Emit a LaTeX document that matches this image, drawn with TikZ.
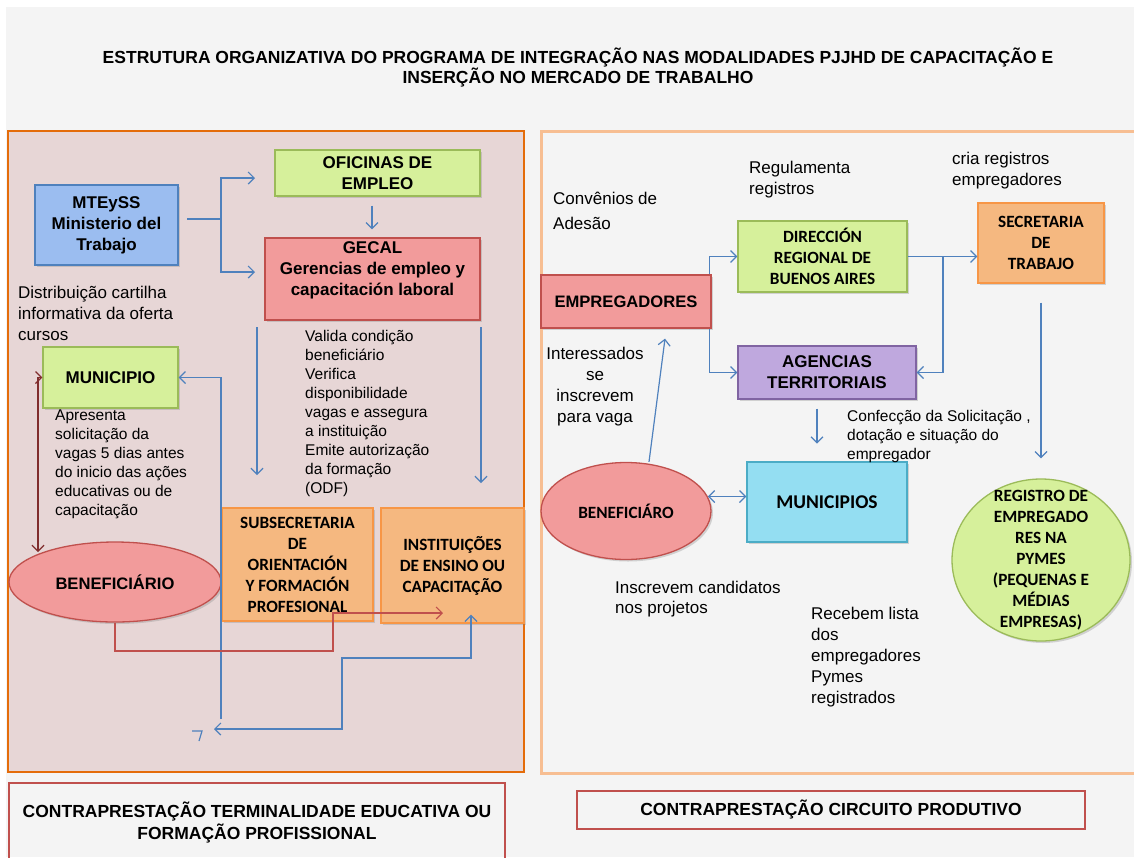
\documentclass[tikz,border=0pt]{standalone}
\usepackage{fontspec}
\setmainfont{Liberation Sans}
\newfontfamily\calibri{Carlito}
\usepackage{tikz}
\usetikzlibrary{
    arrows.meta,
    shapes.geometric,
    shadows,
    calc
}

\begin{document}
\begin{tikzpicture}[
    x=1pt, y=-1pt,
    box/.style={
    	draw, line width=1.3pt,
    	inner sep=0pt, align=center,
    	font=\bfseries\fontsize{17}{21}\selectfont,
    	drop shadow={shadow xshift=2pt, shadow yshift=-2pt, opacity=0.3}
    }, cbox/.style={
    	box, font=\calibri\bfseries\fontsize{17.2}{21}\selectfont
    }, txt/.style={
    	anchor=north west, inner sep=0pt, align=left,
    	font=\fontsize{17}{21}\selectfont
    }, stxt/.style={
    	txt, font=\fontsize{15.5}{19}\selectfont
    }, lin/.style={
    	draw=line-blue, line width=1.2pt
    }, pil/.style={
    	lin, -{Straight Barb[length=6pt,width=12pt]}
    }, dpil/.style={
    	lin, {Straight Barb[length=6pt,width=12pt]}-{Straight Barb[length=6pt,width=12pt]}
    }]
    \definecolor{bg-gray}{RGB}{244, 244, 244}
    \definecolor{left-pink}{RGB}{231, 214, 214}
    \definecolor{left-orange}{RGB}{228, 108, 10}
    \definecolor{right-orange}{RGB}{247, 190, 146}
    \definecolor{my-blue}{RGB}{155, 189, 240}
    \definecolor{my-blue-line}{RGB}{79, 129, 189}
    \definecolor{my-green}{RGB}{214, 240, 155}
    \definecolor{my-green-line}{RGB}{155, 187, 89}
    \definecolor{my-pink}{RGB}{242, 155, 155}
    \definecolor{my-red}{RGB}{192, 80, 77}
    \definecolor{my-orange}{RGB}{245, 184, 128}
    \definecolor{my-orange-line}{RGB}{247, 150, 70}
    \definecolor{my-purple}{RGB}{191, 168, 222}
    \definecolor{my-purple-line}{RGB}{128, 100, 162}
    \definecolor{my-cyan}{RGB}{148, 222, 242}
    \definecolor{my-cyan-line}{RGB}{75, 172, 198}
    \definecolor{line-blue}{RGB}{79, 129, 189}
    \definecolor{dark-red}{RGB}{128, 45, 45}

    \useasboundingbox (0,0) rectangle (1134,857);
    \fill[white] (0,0) rectangle (1134,857);
    \fill[bg-gray] (6,7) rectangle (1134,857);

    %%% title
    \node[align=center, font=\bfseries\fontsize{17.5}{20}\selectfont] (title) at (578,68)
        {ESTRUTURA ORGANIZATIVA DO PROGRAMA DE INTEGRAÇÃO NAS MODALIDADES PJJHD DE CAPACITAÇÃO E\\INSERÇÃO NO MERCADO DE TRABALHO};

    %%% panels
    \draw[draw=left-orange, fill=left-pink, line width=2.5pt] (8,131) rectangle (524,772);
    \draw[draw=right-orange, line width=3pt] (541,131) rectangle (1140,773);

    %%% left panel
    \node[box, fill=my-blue, draw=my-blue-line, minimum width=143, minimum height=80] (mteyss) at (106.5,225) {MTEySS\\Ministerio del\\Trabajo};
    \node[box, fill=my-green, draw=my-green-line, minimum width=205, minimum height=46] (oficinas) at (377.5,173) {OFICINAS DE\\EMPLEO};
    \node[box, fill=my-pink, draw=my-red, minimum width=215, minimum height=82, text depth=20pt] (gecal) at (372.5,279) {GECAL\\Gerencias de empleo y\\capacitación laboral};
    \node[box, fill=my-green, draw=my-green-line, minimum width=135, minimum height=61] (municipio) at (110.5,377.5) {MUNICIPIO};
    \node[box, ellipse, fill=my-pink, draw=my-red, minimum width=212, minimum height=80, font=\bfseries\fontsize{16.6}{20}\selectfont] (benef) at (115,582) {BENEFICIÁRIO};
    \node[cbox, fill=my-orange, draw=my-orange-line, minimum width=151, minimum height=113] (subsec) at (297.5,564.5) {SUBSECRETARIA\\DE\\ORIENTACIÓN\\Y FORMACIÓN\\PROFESIONAL};
    \node[cbox, fill=my-orange, draw=my-orange-line, minimum width=143, minimum height=115] (instit) at (452.5,565.5) {INSTITUIÇÕES\\DE ENSINO OU\\CAPACITAÇÃO};

    \node[txt] (distrib) at (18,285.5) {Distribuição cartilha\\informativa da oferta\\cursos};
    \node[stxt] (apresenta) at (55,410) {Apresenta\\solicitação da\\vagas 5 dias antes\\do inicio das ações\\educativas ou de\\capacitação};
    \node[stxt] (valida) at (305,330) {Valida condição\\beneficiário\\Verifica\\disponibilidade\\vagas e assegura\\a instituição\\Emite autorização\\da formação\\(ODF)};

    %%% right panel
    \node[box, fill=my-pink, draw=my-red, minimum width=170, minimum height=53, font=\bfseries\fontsize{16.6}{20}\selectfont] (empreg) at (626,301.5) {EMPREGADORES};
    \node[cbox, fill=my-green, draw=my-green-line, minimum width=169, minimum height=71] (direccion) at (822.5,256.5) {DIRECCIÓN\\REGIONAL DE\\BUENOS AIRES};
    \node[cbox, fill=my-orange, draw=my-orange-line, minimum width=126, minimum height=80] (secretaria) at (1041,243) {SECRETARIA\\DE\\TRABAJO};
    \node[box, fill=my-purple, draw=my-purple-line, minimum width=178, minimum height=53] (agencias) at (827,372.5) {AGENCIAS\\TERRITORIAIS};
    \node[cbox, ellipse, fill=my-pink, draw=my-red, minimum width=170, minimum height=97] (benef2) at (626,511) {BENEFICIÁRO};
    \node[cbox, fill=my-cyan, draw=my-cyan-line, minimum width=160, minimum height=80, font=\calibri\bfseries\fontsize{19.5}{23}\selectfont] (municipios) at (827,502) {MUNICIPIOS};
    \node[cbox, ellipse, fill=my-green, draw=my-green-line, minimum width=178, minimum height=162,
        label={[align=center, font=\calibri\bfseries\fontsize{17.2}{21}\selectfont]center:REGISTRO DE\\EMPREGADO\\RES NA\\PYMES\\(PEQUENAS E\\MÉDIAS\\EMPRESAS)}] (registro) at (1041,560) {};

    \node[txt, font=\fontsize{17}{25}\selectfont] (convenios) at (553,191.5) {Convênios de\\Adesão};
    \node[txt] (regulamenta) at (749,160.5) {Regulamenta\\registros};
    \node[txt] (cria) at (952,151.5) {cria registros\\empregadores};
    \node[txt, anchor=north, align=center] (interessados) at (595,346.5) {Interessados\\se\\inscrevem\\para vaga};
    \node[stxt] (confeccao) at (847,410) {Confecção da Solicitação ,\\dotação e situação do\\empregador};
    \node[txt, font=\fontsize{17}{20}\selectfont] (inscrevem) at (615,580.5) {Inscrevem candidatos\\nos projetos};
    \node[txt] (recebem) at (811,606.5) {Recebem lista\\dos\\empregadores\\Pymes\\registrados};

    %%% bottom
    \node[draw=my-red, line width=2pt, minimum width=496, minimum height=80, align=center, font=\bfseries\fontsize{17.5}{22}\selectfont] (contra-left) at (257,823) {CONTRAPRESTAÇÃO TERMINALIDADE EDUCATIVA OU\\FORMAÇÃO PROFISSIONAL};
    \node[draw=my-red, line width=2pt, minimum width=508, minimum height=38, font=\bfseries\fontsize{17.5}{20}\selectfont] (contra-right) at (831,810) {CONTRAPRESTAÇÃO CIRCUITO PRODUTIVO};

    %%% EDGES left
    \coordinate (m-out) at (187,219);
    \coordinate (m-fork) at (221,219);
    \coordinate (of-in) at (255,178);
    \coordinate (ge-in) at (255,272);
    \draw[lin] (m-out) -- (m-fork);
    \draw[pil] (m-fork) |- (of-in);
    \draw[pil] (m-fork) |- (ge-in);
    \draw[pil] ([xshift=-5.5pt,yshift=-9pt]oficinas.south) -- ([xshift=-0.5pt,yshift=8pt]gecal.north);

    \coordinate (g-left) at (257,327);
    \coordinate (s-top) at (257,475);
    \coordinate (g-right) at (481,327);
    \coordinate (i-top) at (481,483);
    \draw[pil] (g-left) -- (s-top);
    \draw[pil] (g-right) -- (i-top);

    \coordinate (back) at (221,719);
    \draw[pil] (back) |- (municipio.east);

    \coordinate (loop-end) at (214,729);
    \coordinate (loop-turn) at (342,658);
    \draw[dpil] (loop-end) -| (loop-turn) -| ([xshift=18.5pt,yshift=9pt]instit.south);
    \draw[lin] (192,731) -- (202,731) -- (199,741);

    \coordinate (r-turn) at (333,651);
    \coordinate (r-end) at (443,613);
    \draw[my-red, line width=1.2pt, -{Straight Barb[length=6pt,width=12pt]}] (benef.south) |- (r-turn) |- (r-end);

    \coordinate (d-end) at (38,552);
    \draw[dark-red, line width=1.2pt, {Straight Barb[length=6pt,width=12pt]}-{Straight Barb[length=6pt,width=12pt]}] (municipio.west) -| (d-end);

    %%% EDGES right
    \draw[pil] ([xshift=-2pt]empreg.north east) |- (direccion.west);
    \draw[pil] ([xshift=-2pt]empreg.south east) |- (agencias.west);
    \coordinate (d-split) at (943,256.5);
    \draw[pil] (direccion.east) -- (direccion.east -| secretaria.west);
    \draw[pil] (d-split) |- (agencias.east);
    \draw[pil] ([xshift=-10pt,yshift=-9pt]agencias.south) -- ++(0,35);
    \draw[pil] ([yshift=-19pt]secretaria.south) -- ([yshift=20pt]registro.north);
    \draw[pil] ([xshift=23pt]benef2.north) -- ([xshift=39pt,yshift=-10pt]empreg.south);
    \draw[dpil] (benef2.10) -- (benef2.10 -| municipios.west);

\end{tikzpicture}
\end{document}
